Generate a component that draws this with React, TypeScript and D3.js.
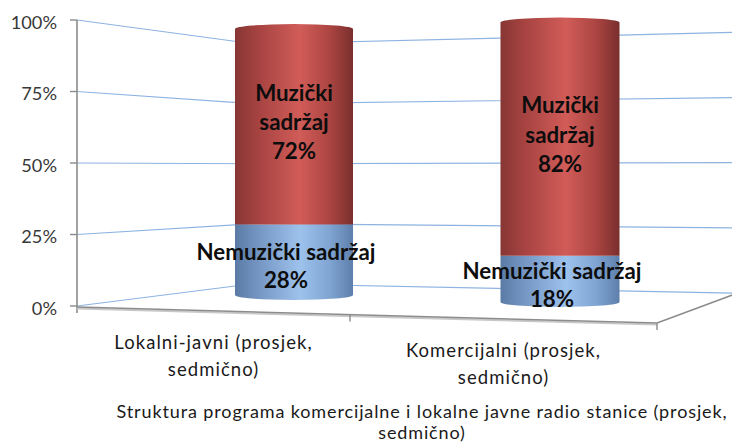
import React from "react";
import * as d3 from "d3";

const categories = ["Lokalni-javni", "Komercijalni"];
const categoryLines = [
  ["Lokalni-javni (prosjek,", "sedmično)"],
  ["Komercijalni (prosjek,", "sedmično)"],
];
const seriesNames = ["Nemuzički sadržaj", "Muzički sadržaj"];
const nemuzicki = [28, 18];
const muzicki = [72, 82];
const yTicks = [0, 25, 50, 75, 100];
const yTickLabels = ["0%", "25%", "50%", "75%", "100%"];
const titleLines = [
  "Struktura programa komercijalne i lokalne javne radio stanice (prosjek,",
  "sedmično)",
];

const W = 732;
const H = 443;
const FONT = "Lato, 'Open Sans', 'Noto Sans', sans-serif";

// perspective walls (left wall x 77..corner, back wall corner..right)
const wallX = [77, 255, 740];
const wallY0 = d3.scaleLinear().domain(wallX).range([306, 283.5, 293.2]);
const wallY100 = d3.scaleLinear().domain(wallX).range([20, 44, 32.2]);
const wallY = (v: number, x: number) =>
  wallY0(x) + ((wallY100(x) - wallY0(x)) * v) / 100;

// floor front edge (category axis)
const catX = d3.scaleLinear().domain([0, 1, 2]).range([77, 350, 657]);
const frontY = d3.scaleLinear().domain([77, 657]).range([307, 323]);

// cylinder row
const cylX = d3.scaleLinear().domain([0, 1]).range([294, 560]);
const cylRx = d3.scaleLinear().domain([0, 1]).range([59, 59.5]);
const cylBase = d3.scaleLinear().domain([0, 1]).range([295, 302]);
const cylTop = d3.scaleLinear().domain([0, 1]).range([29, 22.5]);
const RY = 5;
const SEAM = 4;

const table = categories.map((c, i) => ({
  cat: c,
  [seriesNames[0]]: nemuzicki[i],
  [seriesNames[1]]: muzicki[i],
}));
const stacked = d3.stack<any>().keys(seriesNames)(table);

const gradIds = ["gBlue", "gRed"];
const gradStops = [
  [
    [0, "#5b7ba6"],
    [0.2, "#7596c3"],
    [0.55, "#9dc2ec"],
    [0.8, "#80a5d3"],
    [1, "#5e7fab"],
  ],
  [
    [0, "#873634"],
    [0.2, "#a64341"],
    [0.55, "#d15c58"],
    [0.8, "#ac4542"],
    [1, "#792f2d"],
  ],
];

function segPath(
  cx: number,
  rx: number,
  yb: number,
  yt: number,
  isBottom: boolean,
  isTop: boolean
) {
  const L = cx - rx;
  const R = cx + rx;
  const p = d3.path();
  const topY = isTop ? yt : yt + SEAM;
  const botY = isBottom ? yb : yb + SEAM;
  p.moveTo(L, topY);
  p.lineTo(L, botY);
  let s = p.toString();
  if (isBottom) s += ` A ${rx} ${RY} 0 0 0 ${R} ${botY}`;
  else s += ` L ${R} ${botY}`;
  s += ` L ${R} ${topY}`;
  if (isTop) s += ` A ${rx} ${RY} 0 0 0 ${L} ${topY}`;
  else s += ` L ${L} ${topY}`;
  return s + " Z";
}

export default function App() {
  const gridColor = "#8db3e2";
  const axisColor = "#8c8c8c";
  const frontLine = d3
    .line<number>()
    .x((x) => x)
    .y((x) => frontY(x));

  return (
    <svg
      width={W}
      height={H}
      style={{ position: "absolute", left: 0, top: 0, background: "#fff" }}
      fontFamily={FONT}
    >
      <defs>
        {gradIds.map((id, k) => (
          <linearGradient key={id} id={id} x1="0" x2="1" y1="0" y2="0">
            {gradStops[k].map(([o, c], j) => (
              <stop key={j} offset={o as number} stopColor={c as string} />
            ))}
          </linearGradient>
        ))}
      </defs>

      {/* gridlines on walls */}
      {yTicks.map((v) => (
        <path
          key={"g" + v}
          d={
            d3
              .line<number>()
              .x((x) => x)
              .y((x) => wallY(v, x))(wallX) as string
          }
          fill="none"
          stroke={gridColor}
          strokeWidth={1.2}
        />
      ))}

      {/* vertical axis */}
      <line
        x1={wallX[0]}
        x2={wallX[0]}
        y1={wallY(100, wallX[0])}
        y2={frontY(wallX[0]) + 6}
        stroke={axisColor}
        strokeWidth={1.6}
      />
      {yTicks.map((v) => (
        <line
          key={"t" + v}
          x1={wallX[0] - 7}
          x2={wallX[0]}
          y1={wallY(v, wallX[0])}
          y2={wallY(v, wallX[0])}
          stroke={axisColor}
          strokeWidth={1.4}
        />
      ))}
      {yTicks.map((v, i) => (
        <text
          key={"l" + v}
          x={57}
          y={wallY(v, wallX[0]) + 8.5}
          textAnchor="end"
          fontSize={18.2}
          fill="#383838"
        >
          {yTickLabels[i]}
        </text>
      ))}

      {/* floor edges */}
      <path
        d={frontLine([catX(0), catX(2)]) as string}
        stroke="#c8c8c8"
        strokeWidth={2}
        fill="none"
        transform="translate(0,1.5)"
      />
      <path
        d={frontLine([catX(0), catX(2)]) as string}
        stroke={axisColor}
        strokeWidth={1.5}
        fill="none"
      />
      <line
        x1={catX(2)}
        y1={frontY(catX(2))}
        x2={740}
        y2={wallY(0, 740) - 1}
        stroke={axisColor}
        strokeWidth={1.5}
      />
      {[1, 2].map((k) => (
        <line
          key={"ct" + k}
          x1={catX(k)}
          x2={catX(k)}
          y1={frontY(catX(k))}
          y2={frontY(catX(k)) + 7}
          stroke={axisColor}
          strokeWidth={1.4}
        />
      ))}

      {/* cylinders */}
      {categories.map((c, i) => {
        const cx = cylX(i);
        const rx = cylRx(i);
        const ys = d3.scaleLinear().domain([0, 100]).range([cylBase(i), cylTop(i)]);
        return (
          <g key={"cyl" + c}>
            {stacked.map((s, k) => {
              const [v0, v1] = s[i];
              return (
                <path
                  key={s.key}
                  d={segPath(cx, rx, ys(v0), ys(v1), k === 0, k === stacked.length - 1)}
                  fill={`url(#${gradIds[k]})`}
                />
              );
            })}
          </g>
        );
      })}

      {/* data labels */}
      {categories.map((c, i) => {
        const cx = cylX(i);
        const ys = d3.scaleLinear().domain([0, 100]).range([cylBase(i), cylTop(i)]);
        return stacked.map((s, k) => {
          const [v0, v1] = s[i];
          const mid = (ys(v0) + ys(v1)) / 2;
          const val = v1 - v0;
          const name = seriesNames[k];
          const lines =
            k === 0 ? [name, `${val}%`] : [...name.split(" "), `${val}%`];
          const step = k === 0 ? 28.5 : 29.2;
          const off = k === 0 ? 16 : 5.5;
          const dx = k === 0 ? -8 : 0;
          return lines.map((ln, j) => (
            <text
              key={c + k + j}
              x={cx + dx}
              y={mid + off + (j - (lines.length - 1) / 2) * step}
              textAnchor="middle"
              fontSize={22.3}
              fontWeight="bold"
              fill="#0d0d0d"
            >
              {ln}
            </text>
          ));
        });
      })}

      {/* category labels */}
      {categories.map((c, i) => {
        const x = catX(i + 0.5);
        return categoryLines[i].map((ln, j) => (
          <text
            key={"cl" + i + j}
            x={x}
            y={frontY(x) + 38.5 + j * 26.5}
            textAnchor="middle"
            fontSize={18.5}
            letterSpacing={1.05}
            fill="#1a1a1a"
          >
            {ln}
          </text>
        ));
      })}

      {/* title */}
      {titleLines.map((ln, j) => (
        <text
          key={"ti" + j}
          x={422}
          y={418 + j * 20.5}
          textAnchor="middle"
          fontSize={18}
          letterSpacing={0.88}
          fill="#1a1a1a"
        >
          {ln}
        </text>
      ))}
    </svg>
  );
}
